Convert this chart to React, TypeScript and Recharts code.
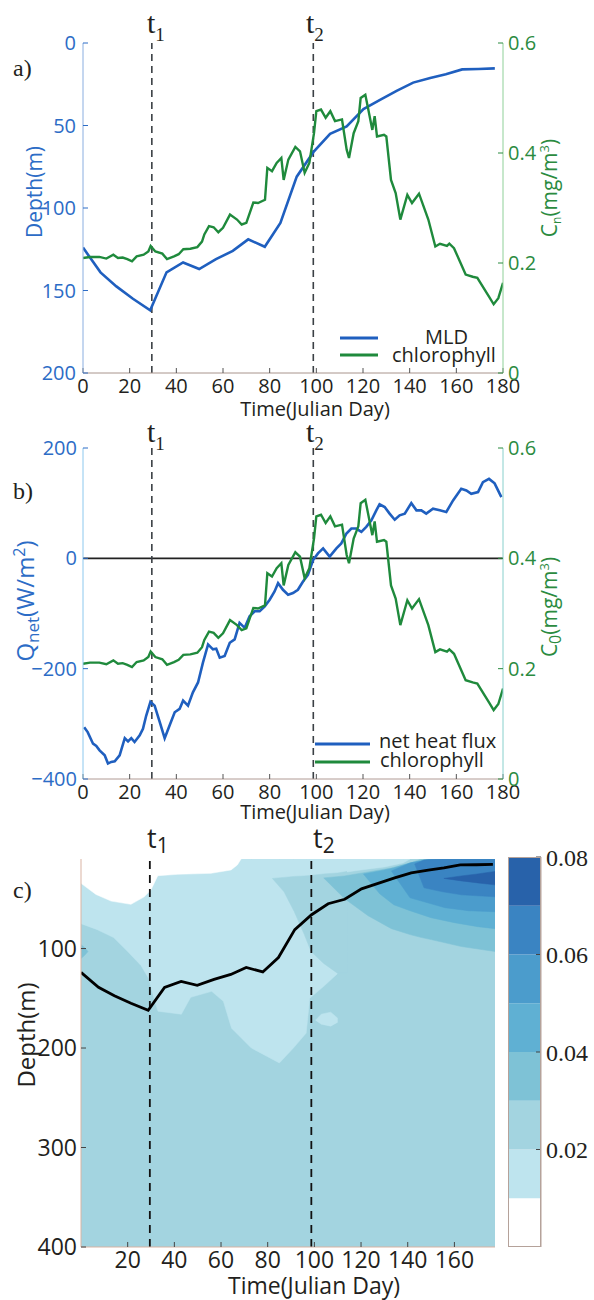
import React from "react";
import {
  Area,
  Bar,
  BarChart,
  ComposedChart,
  Line,
  ReferenceLine,
  XAxis,
  YAxis,
} from "recharts";

const SANS = "'Open Sans', 'DejaVu Sans', sans-serif";
const SERIF = "'Liberation Serif', 'DejaVu Serif', serif";

const BLUE = "#1f5fbf";
const GREEN = "#1f8a3c";
const BLUE_TEXT = "#2c6cc6";
const GREEN_TEXT = "#2b8b3f";
const INK = "#231f20";
const DASH = "#3b4045";

const DAY_TICKS = [0, 20, 40, 60, 80, 100, 120, 140, 160, 180];
const C_DAY_TICKS = [20, 40, 60, 80, 100, 120, 140, 160];
const DEPTH_TICKS = [0, 50, 100, 150, 200];
const CHL_TICKS = [0, 0.2, 0.4, 0.6];
const Q_TICKS = [-400, -200, 0, 200];
const C_DEPTH_TICKS = [100, 200, 300, 400];
const CB_TICKS = [0.02, 0.04, 0.06, 0.08];

const T1 = 29.5;
const T2 = 98.7;

// mixed layer depth (m)
const mldDays = [0, 7.5, 14.3, 21.4, 28.8, 35.8, 42.9, 49.8, 57, 64.2, 70.8, 77.9, 84.6, 91.6, 98.8, 105.9, 113, 120.2, 127.3, 134.4, 141.5, 148.8, 155.5, 162.5, 169.5, 176.5];
const mldDepth = [124, 139, 147.5, 155, 162, 139, 133, 137, 131, 126, 119, 123.5, 109, 81, 66, 55, 50.5, 40, 34.5, 29, 24, 21.2, 19, 16, 15.8, 15.4];

// surface chlorophyll (mg/m3)
const chlDays = [0, 3, 7, 10, 13, 15, 17, 19, 21, 23, 26, 28, 29, 31, 34, 36, 39, 41, 43, 46, 49, 51, 52, 54, 56, 58, 60, 63, 66, 68, 70, 73, 75, 78, 79, 81, 83, 85, 86, 88, 91, 93, 95, 97, 99, 100, 102, 104, 106, 108, 111, 113, 114, 116, 118, 119, 121, 122, 124, 125, 126, 129, 130, 132, 134, 136, 139, 141, 144, 148, 151, 153, 156, 157, 159, 164, 167, 169, 174, 176, 178, 180];
const chlValues = [0.209, 0.211, 0.211, 0.208, 0.215, 0.209, 0.21, 0.207, 0.203, 0.212, 0.215, 0.221, 0.231, 0.221, 0.217, 0.207, 0.212, 0.216, 0.225, 0.226, 0.229, 0.239, 0.252, 0.267, 0.265, 0.256, 0.264, 0.288, 0.279, 0.27, 0.273, 0.31, 0.309, 0.315, 0.373, 0.367, 0.382, 0.391, 0.351, 0.388, 0.411, 0.403, 0.364, 0.382, 0.436, 0.476, 0.479, 0.464, 0.476, 0.458, 0.461, 0.406, 0.391, 0.436, 0.458, 0.5, 0.506, 0.485, 0.442, 0.467, 0.43, 0.433, 0.43, 0.351, 0.327, 0.279, 0.324, 0.309, 0.326, 0.279, 0.23, 0.235, 0.231, 0.235, 0.227, 0.179, 0.175, 0.173, 0.139, 0.125, 0.136, 0.164];

// net heat flux (W/m2)
const qDays = [0.5, 2, 4.3, 5.7, 7.1, 9.3, 10.7, 12.1, 13.6, 15.7, 17.9, 19.3, 20.7, 22.1, 24.3, 25.7, 27.1, 28.9, 30.7, 32.9, 35, 37.1, 39.3, 41.4, 42.9, 45, 47.1, 49.3, 51.4, 53.6, 55.7, 57.1, 58.6, 60.7, 62.9, 65, 67.1, 69.3, 71.4, 73.6, 75.7, 77.9, 80, 82.1, 83.6, 85.7, 87.9, 90, 92.1, 94.3, 96.4, 98.6, 100.7, 102.9, 105.7, 108.6, 110.7, 112.9, 115, 117.1, 119.3, 121.4, 123.6, 125.7, 127.1, 129.3, 131.4, 133.6, 135.7, 137.9, 140.7, 142.9, 145, 147.1, 150, 152.9, 155.7, 158.6, 162.1, 164.3, 166.4, 169.3, 171.4, 174, 176.4, 179.3];
const qValues = [-306, -315, -336, -340, -348, -357, -372, -369, -368, -357, -326, -332, -326, -333, -321, -309, -285, -260, -267, -297, -326, -303, -279, -273, -258, -267, -243, -225, -189, -156, -165, -164, -180, -177, -153, -147, -117, -126, -105, -96, -96, -87, -75, -60, -45, -57, -66, -63, -57, -42, -30, -3, 9, 18, 3, 18, 27, 45, 54, 54, 48, 57, 69, 87, 98, 93, 81, 70, 78, 81, 100, 87, 87, 81, 90, 87, 84, 105, 126, 123, 117, 120, 138, 144, 136, 111];

// contour bands of panel c: [shallow, deep] depth per day
const SURFACE = 10;
const C_DAY_MAX = 177.4;
const whiteDays = [0, 6.4, 12.9, 21.4, 27.1, 30, 32.9, 41.4, 55.7, 64.3, 67, 68.6];
const whiteBottom = [34.5, 45.6, 52.3, 55.6, 48, 41, 26.8, 25.4, 24.4, 21, 16, 10];
const lightDays = [0, 7, 14, 20, 25.7, 29, 31.5, 33, 43, 47, 56, 61, 64.5, 73, 85, 91, 96.5, 98, 104, 110, 111, 120, 130, 138, 141];
const lightBottom = [75, 81, 89, 103, 117, 130, 152, 163, 166, 149, 143, 153, 180, 200, 215, 200, 185, 150, 138, 125, 24, 21, 18, 14, 10];
const wedgeDays = [82, 87, 91.4, 95.7, 98.6, 104, 110, 114];
const wedgeTop = [29.5, 28.5, 27.5, 27, 26.5, 25, 24, 22.5];
const wedgeBottom = [29.5, 43, 63, 86, 103, 115, 125, 125];
const blobDays = [100.5, 103, 107, 110];
const blobTop = [172, 166, 164, 170];
const blobBottom = [172, 176, 178, 174];
const edgeDays = [0, 1.5, 3];
const edgeTop = [96, 99, 103];
const edgeBottom = [110, 107, 103];
const band3Days = [104, 113, 123, 133, 141, 146, 150, 163, 177.4];
const band3Top = [29, 27, 23, 19, 14, 10, 10, 10, 10];
const band3Bottom = [29, 50, 67, 80, 86, 89, 91, 98, 103];
const band4Days = [121, 128, 134, 141, 150, 160, 170, 177.4];
const band4Top = [25, 22, 19, 14, 10, 10, 10, 10];
const band4Bottom = [25, 45, 56, 62, 69, 74, 78, 80];
const band5Days = [133, 141, 150, 156, 166, 177.4];
const band5Top = [22, 14, 10, 10, 10, 10];
const band5Bottom = [22, 49, 55, 59, 62, 63];
const band6Days = [143, 147, 155, 163, 177.4];
const band6Top = [15, 11, 10, 10, 10];
const band6Bottom = [15, 39, 43, 46, 48];
const band7Days = [155.5, 163, 170, 177.4];
const band7Top = [29.5, 27, 25, 22.5];
const band7Bottom = [29.5, 32, 34, 36];

const LEVEL_COLORS = ["#ffffff", "#bee4ee", "#a3d4e0", "#7ec2d6", "#5fb0d3", "#4b9ccc", "#3a84c2", "#2862aa"];
const CB_STEPS = [0.01, 0.01, 0.01, 0.01, 0.01, 0.01, 0.01, 0.01];

const series = (days: number[], vals: number[]) =>
  days.map((day, i) => ({ day, v: vals[i] }));
const band = (days: number[], top: number[], bottom: number[]) =>
  days.map((day, i) => ({ day, r: [top[i], bottom[i]] }));
const surfaceBand = (days: number[], bottom: number[]) =>
  days.map((day, i) => ({ day, r: [SURFACE, bottom[i]] }));

const mldData = series(mldDays, mldDepth);
const chlData = series(chlDays, chlValues);
const qData = series(qDays, qValues);

const contourLayers = [
  { key: "base", color: LEVEL_COLORS[2], data: band([0, C_DAY_MAX], [SURFACE, SURFACE], [400, 400]) },
  { key: "light", color: LEVEL_COLORS[1], data: surfaceBand(lightDays, lightBottom) },
  { key: "white", color: LEVEL_COLORS[0], data: surfaceBand(whiteDays, whiteBottom) },
  { key: "wedge", color: LEVEL_COLORS[2], data: band(wedgeDays, wedgeTop, wedgeBottom) },
  { key: "blob", color: LEVEL_COLORS[1], data: band(blobDays, blobTop, blobBottom) },
  { key: "edge", color: LEVEL_COLORS[3], data: band(edgeDays, edgeTop, edgeBottom) },
  { key: "b3", color: LEVEL_COLORS[3], data: band(band3Days, band3Top, band3Bottom) },
  { key: "b4", color: LEVEL_COLORS[4], data: band(band4Days, band4Top, band4Bottom) },
  { key: "b5", color: LEVEL_COLORS[5], data: band(band5Days, band5Top, band5Bottom) },
  { key: "b6", color: LEVEL_COLORS[6], data: band(band6Days, band6Top, band6Bottom) },
  { key: "b7", color: LEVEL_COLORS[7], data: band(band7Days, band7Top, band7Bottom) },
];

const cbRow: Record<string, string | number> = { name: "cb" };
CB_STEPS.forEach((s, i) => (cbRow[`l${i}`] = s));
const cbData = [cbRow];

const fmtChl = (v: number) => (v === 0 ? "0" : v.toFixed(1));
const fmtQ = (v: number) => (v < 0 ? `\u2212${Math.abs(v)}` : `${v}`);
const fmtCb = (v: number) => v.toFixed(2);

function Txt({ x, y, size, color = INK, font = SANS, children, center = false, lh }: any) {
  return (
    <div
      style={{
        position: "absolute",
        left: x,
        top: y,
        fontSize: size,
        lineHeight: lh ? `${lh}px` : 1,
        color,
        fontFamily: font,
        whiteSpace: "nowrap",
        transform: center ? "translateX(-50%)" : undefined,
      }}
    >
      {children}
    </div>
  );
}

function VTxt({ cx, cy, size, color, children }: any) {
  return (
    <div
      style={{
        position: "absolute",
        left: cx,
        top: cy,
        fontSize: size,
        lineHeight: 1,
        color,
        fontFamily: SANS,
        whiteSpace: "nowrap",
        transform: "translate(-50%, -50%) rotate(-90deg)",
      }}
    >
      {children}
    </div>
  );
}

function TLabel({ x, y, n, serif = true }: any) {
  return (
    <Txt x={x} y={y} size={serif ? 30 : 27} font={serif ? SERIF : SANS}>
      t
      <span style={{ fontSize: serif ? 19 : 21, position: "relative", top: serif ? 8 : 5 }}>{n}</span>
    </Txt>
  );
}

function Swatch({ x, y, w, color }: any) {
  return (
    <svg style={{ position: "absolute", left: x, top: y - 3 }} width={w} height={6}>
      <line x1={0} y1={3} x2={w} y2={3} stroke={color} strokeWidth={3} />
    </svg>
  );
}

const inward = { tickSize: -5 };

export default function App() {
  return (
    <div
      style={{
        position: "absolute",
        left: 0,
        top: 0,
        width: 594,
        height: 1300,
        background: "#fff",
        fontFamily: SANS,
        overflow: "hidden",
      }}
    >
      {/* panel a */}
      <div style={{ position: "absolute", left: 0, top: 0 }}>
        <ComposedChart width={594} height={420} margin={{ top: 43, right: 51, bottom: 17, left: 43 }}>
          <XAxis
            xAxisId="b"
            type="number"
            dataKey="day"
            domain={[0, 180]}
            ticks={DAY_TICKS}
            interval={0}
            allowDataOverflow
            height={30}
            {...inward}
            tickMargin={11}
            axisLine={{ stroke: "#a8948c" }}
            tickLine={{ stroke: "#555" }}
            tick={{ fill: INK, fontSize: 20, fontFamily: SANS }}
          />
          <XAxis
            xAxisId="t"
            orientation="top"
            type="number"
            dataKey="day"
            domain={[0, 180]}
            ticks={DAY_TICKS}
            interval={0}
            height={0}
            tick={false}
            {...inward}
            axisLine={{ stroke: "#a39a96" }}
            tickLine={{ stroke: "#555" }}
          />
          <YAxis
            yAxisId="d"
            reversed
            domain={[0, 200]}
            ticks={DEPTH_TICKS}
            interval={0}
            allowDataOverflow
            width={40}
            {...inward}
            tickMargin={12}
            axisLine={{ stroke: "#8aaee0" }}
            tickLine={{ stroke: BLUE_TEXT }}
            tick={{ fill: BLUE_TEXT, fontSize: 20, fontFamily: SANS }}
          />
          <YAxis
            yAxisId="c"
            orientation="right"
            domain={[0, 0.6]}
            ticks={CHL_TICKS}
            interval={0}
            allowDataOverflow
            width={40}
            {...inward}
            tickMargin={10}
            tickFormatter={fmtChl}
            axisLine={{ stroke: "#8fd098" }}
            tickLine={{ stroke: GREEN_TEXT }}
            tick={{ fill: GREEN_TEXT, fontSize: 20, fontFamily: SANS }}
          />
          <ReferenceLine xAxisId="b" yAxisId="d" x={T1} stroke={DASH} strokeWidth={1.6} strokeDasharray="7 5" />
          <ReferenceLine xAxisId="b" yAxisId="d" x={T2} stroke={DASH} strokeWidth={1.6} strokeDasharray="7 5" />
          <Line xAxisId="b" yAxisId="d" data={mldData} dataKey="v" type="linear" stroke={BLUE} strokeWidth={2.6} dot={false} isAnimationActive={false} />
          <Line xAxisId="b" yAxisId="c" data={chlData} dataKey="v" type="linear" stroke={GREEN} strokeWidth={2.4} dot={false} isAnimationActive={false} />
        </ComposedChart>
      </div>

      {/* panel b */}
      <div style={{ position: "absolute", left: 0, top: 400 }}>
        <ComposedChart width={594} height={420} margin={{ top: 48, right: 51, bottom: 11, left: 43 }}>
          <XAxis
            xAxisId="b"
            type="number"
            dataKey="day"
            domain={[0, 180]}
            ticks={DAY_TICKS}
            interval={0}
            allowDataOverflow
            height={30}
            {...inward}
            tickMargin={11}
            axisLine={{ stroke: "#b09a94" }}
            tickLine={{ stroke: "#555" }}
            tick={{ fill: INK, fontSize: 20, fontFamily: SANS }}
          />
          <XAxis
            xAxisId="t"
            orientation="top"
            type="number"
            dataKey="day"
            domain={[0, 180]}
            ticks={DAY_TICKS}
            interval={0}
            height={0}
            tick={false}
            {...inward}
            axisLine={{ stroke: "#9fa7a8" }}
            tickLine={{ stroke: "#555" }}
          />
          <YAxis
            yAxisId="q"
            domain={[-400, 200]}
            ticks={Q_TICKS}
            interval={0}
            allowDataOverflow
            width={40}
            {...inward}
            tickMargin={11}
            tickFormatter={fmtQ}
            axisLine={{ stroke: "#8cc8ee" }}
            tickLine={{ stroke: BLUE_TEXT }}
            tick={{ fill: BLUE_TEXT, fontSize: 20, fontFamily: SANS }}
          />
          <YAxis
            yAxisId="c"
            orientation="right"
            domain={[0, 0.6]}
            ticks={CHL_TICKS}
            interval={0}
            allowDataOverflow
            width={40}
            {...inward}
            tickMargin={10}
            tickFormatter={fmtChl}
            axisLine={{ stroke: "#88d0cc" }}
            tickLine={{ stroke: GREEN_TEXT }}
            tick={{ fill: GREEN_TEXT, fontSize: 20, fontFamily: SANS }}
          />
          <ReferenceLine xAxisId="b" yAxisId="q" y={0} stroke="#222" strokeWidth={1.6} />
          <ReferenceLine xAxisId="b" yAxisId="q" x={T1} stroke={DASH} strokeWidth={1.6} strokeDasharray="7 5" />
          <ReferenceLine xAxisId="b" yAxisId="q" x={T2} stroke={DASH} strokeWidth={1.6} strokeDasharray="7 5" />
          <Line xAxisId="b" yAxisId="q" data={qData} dataKey="v" type="linear" stroke={BLUE} strokeWidth={2.6} dot={false} isAnimationActive={false} />
          <Line xAxisId="b" yAxisId="c" data={chlData} dataKey="v" type="linear" stroke={GREEN} strokeWidth={2.4} dot={false} isAnimationActive={false} />
        </ComposedChart>
      </div>

      {/* panel c */}
      <div style={{ position: "absolute", left: 0, top: 830 }}>
        <ComposedChart width={594} height={470} margin={{ top: 29, right: 99, bottom: 18, left: 36 }}>
          <XAxis
            xAxisId="b"
            type="number"
            dataKey="day"
            domain={[0, C_DAY_MAX]}
            ticks={C_DAY_TICKS}
            interval={0}
            allowDataOverflow
            height={35}
            {...inward}
            tickMargin={10}
            axisLine={{ stroke: "#d9b3a3" }}
            tickLine={{ stroke: "#444" }}
            tick={{ fill: INK, fontSize: 23, fontFamily: SANS }}
          />
          <XAxis
            xAxisId="t"
            orientation="top"
            type="number"
            dataKey="day"
            domain={[0, C_DAY_MAX]}
            ticks={C_DAY_TICKS}
            interval={0}
            height={0}
            tick={false}
            {...inward}
            axisLine={{ stroke: "#d9b3a3" }}
            tickLine={{ stroke: "#444" }}
          />
          <YAxis
            yAxisId="d"
            reversed
            domain={[SURFACE, 400]}
            ticks={C_DEPTH_TICKS}
            interval={0}
            allowDataOverflow
            width={45}
            {...inward}
            tickMargin={9}
            axisLine={{ stroke: "#d9b3a3" }}
            tickLine={{ stroke: "#444" }}
            tick={{ fill: INK, fontSize: 23, fontFamily: SANS }}
          />
          <YAxis
            yAxisId="r"
            orientation="right"
            reversed
            domain={[SURFACE, 400]}
            ticks={C_DEPTH_TICKS}
            interval={0}
            allowDataOverflow
            width={0}
            tick={false}
            {...inward}
            axisLine={{ stroke: "#d9b3a3" }}
            tickLine={{ stroke: "#444" }}
          />
          {contourLayers.map((layer) => (
            <Area
              key={layer.key}
              xAxisId="b"
              yAxisId="d"
              data={layer.data}
              dataKey="r"
              type="linear"
              stroke={layer.color}
              strokeWidth={0.5}
              fill={layer.color}
              fillOpacity={1}
              dot={false}
              activeDot={false}
              isAnimationActive={false}
            />
          ))}
          <ReferenceLine xAxisId="b" yAxisId="d" x={T1} stroke="#111" strokeWidth={1.8} strokeDasharray="8 6" />
          <ReferenceLine xAxisId="b" yAxisId="d" x={T2} stroke="#111" strokeWidth={1.8} strokeDasharray="8 6" />
          <Line xAxisId="b" yAxisId="d" data={mldData} dataKey="v" type="linear" stroke="#000" strokeWidth={2.8} dot={false} isAnimationActive={false} />
        </ComposedChart>
      </div>

      {/* colour bar */}
      <div style={{ position: "absolute", left: 490, top: 830 }}>
        <BarChart width={104} height={440} data={cbData} margin={{ top: 27, right: 0, bottom: 23, left: 18 }} barCategoryGap={0}>
          <XAxis dataKey="name" hide />
          <YAxis
            orientation="right"
            domain={[0, 0.08]}
            ticks={CB_TICKS}
            interval={0}
            width={53}
            {...inward}
            tickMargin={10}
            tickFormatter={fmtCb}
            axisLine={{ stroke: "#b5a29a" }}
            tickLine={{ stroke: "#444" }}
            tick={{ fill: INK, fontSize: 24, fontFamily: SERIF }}
          />
          {CB_STEPS.map((_, i) => (
            <Bar key={i} dataKey={`l${i}`} stackId="cb" fill={LEVEL_COLORS[i]} isAnimationActive={false} />
          ))}
        </BarChart>
      </div>
      <div
        style={{
          position: "absolute",
          left: 508,
          top: 857,
          width: 33,
          height: 390,
          border: "1px solid #b5a29a",
          boxSizing: "border-box",
          pointerEvents: "none",
        }}
      />

      {/* labels panel a */}
      <Txt x={13} y={56} size={24} font={SERIF}>a)</Txt>
      <TLabel x={147} y={8} n="1" />
      <TLabel x={306} y={8} n="2" />
      <VTxt cx={34} cy={192} size={21} color={BLUE_TEXT}>Depth(m)</VTxt>
      <VTxt cx={549} cy={188} size={21} color={GREEN_TEXT}>
        C<span style={{ fontSize: 12, position: "relative", top: 4 }}>n</span>(mg/m<span style={{ fontSize: 13, position: "relative", top: -8 }}>3</span>)
      </VTxt>
      <Txt x={315} y={399} size={20} center>Time(Julian Day)</Txt>
      <Swatch x={340} y={338} w={38} color={BLUE} />
      <Swatch x={340} y={355} w={38} color={GREEN} />
      <Txt x={425} y={328} size={20} lh={17}>MLD</Txt>
      <Txt x={392} y={346} size={20} lh={17}>chlorophyll</Txt>

      {/* labels panel b */}
      <Txt x={13} y={479} size={24} font={SERIF}>b)</Txt>
      <TLabel x={147} y={417} n="1" />
      <TLabel x={306} y={417} n="2" />
      <VTxt cx={25} cy={601} size={24} color={BLUE_TEXT}>
        Q<span style={{ fontSize: 17, position: "relative", top: 5 }}>net</span>(W/m<span style={{ fontSize: 16, position: "relative", top: -9 }}>2</span>)
      </VTxt>
      <VTxt cx={549} cy={607} size={21} color={GREEN_TEXT}>
        C<span style={{ fontSize: 16, position: "relative", top: 4 }}>0</span>(mg/m<span style={{ fontSize: 13, position: "relative", top: -8 }}>3</span>)
      </VTxt>
      <Txt x={315} y={802} size={20} center>Time(Julian Day)</Txt>
      <Swatch x={315} y={744} w={55} color={BLUE} />
      <Swatch x={315} y={762} w={55} color={GREEN} />
      <Txt x={379} y={732} size={20} lh={17}>net heat flux</Txt>
      <Txt x={380} y={751} size={20} lh={17}>chlorophyll</Txt>

      {/* labels panel c */}
      <Txt x={13} y={878} size={24} font={SERIF}>c)</Txt>
      <TLabel x={147} y={824} n="1" serif={false} />
      <TLabel x={313} y={824} n="2" serif={false} />
      <VTxt cx={26} cy={1035} size={24} color={INK}>Depth(m)</VTxt>
      <Txt x={314} y={1273} size={23} center lh={24}>Time(Julian Day)</Txt>
    </div>
  );
}
